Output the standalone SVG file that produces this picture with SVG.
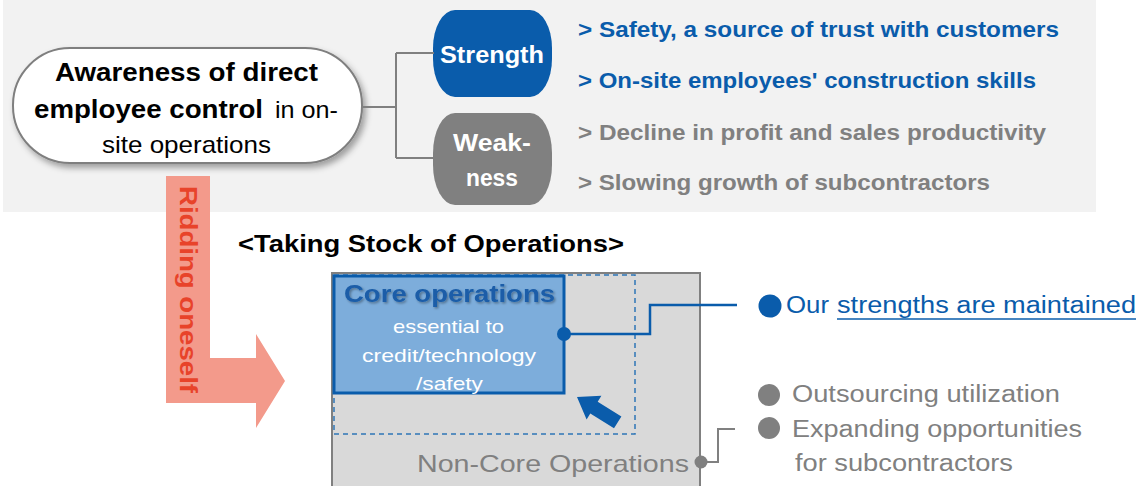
<svg xmlns="http://www.w3.org/2000/svg" width="1137" height="486" viewBox="0 0 1137 486">
<defs>
<style>
text{font-family:"Liberation Sans",Arial,sans-serif}
.b{font-weight:bold}
.blue{fill:#0a5cab}
.gray{fill:#808080}
.wt{fill:#ffffff}
.ln{fill:none;stroke:#808080;stroke-width:2}
.bl{fill:none;stroke:#0a5cab;stroke-width:2.5}
</style>
<filter id="sh" x="-10%" y="-10%" width="130%" height="140%">
<feDropShadow dx="3" dy="4" stdDeviation="3" flood-color="#000" flood-opacity="0.35"/>
</filter>
<filter id="tsh" x="-5%" y="-20%" width="110%" height="150%">
<feDropShadow dx="1.5" dy="1.5" stdDeviation="1" flood-color="#000" flood-opacity="0.35"/>
</filter>
</defs>
<rect x="3" y="0" width="1093" height="212" fill="#f2f2f2"/>
<g id="awareness">
<rect x="13" y="48" width="349" height="115" rx="57" ry="57" fill="#fff" stroke="#7f7f7f" stroke-width="2" filter="url(#sh)"/>
<text x="55" y="81" class="b" font-size="25" textLength="263" lengthAdjust="spacingAndGlyphs">Awareness of direct</text>
<text x="34" y="118" class="b" font-size="25" textLength="229" lengthAdjust="spacingAndGlyphs">employee control</text>
<text x="275" y="118" font-size="24" textLength="63" lengthAdjust="spacingAndGlyphs">in on-</text>
<text x="102" y="153" font-size="24" textLength="169" lengthAdjust="spacingAndGlyphs">site operations</text>
</g>
<g id="strength">
<rect x="433" y="10" width="119" height="87" rx="22" ry="38" fill="#0a5cab"/>
<text x="440" y="63" class="b wt" font-size="24" textLength="104" lengthAdjust="spacingAndGlyphs">Strength</text>
</g>
<g id="weakness">
<rect x="433" y="113" width="119" height="92" rx="22" ry="40" fill="#808080"/>
<text x="453" y="151" class="b wt" font-size="24" textLength="78" lengthAdjust="spacingAndGlyphs">Weak-</text>
<text x="466" y="186" class="b wt" font-size="24" textLength="52" lengthAdjust="spacingAndGlyphs">ness</text>
</g>
<g id="points">
<text x="578" y="37" class="b blue" font-size="22" textLength="481" lengthAdjust="spacingAndGlyphs">&gt; Safety, a source of trust with customers</text>
<text x="578" y="88" class="b blue" font-size="22" textLength="458" lengthAdjust="spacingAndGlyphs">&gt; On-site employees' construction skills</text>
<text x="578" y="140" class="b gray" font-size="22" textLength="468" lengthAdjust="spacingAndGlyphs">&gt; Decline in profit and sales productivity</text>
<text x="578" y="190" class="b gray" font-size="22" textLength="412" lengthAdjust="spacingAndGlyphs">&gt; Slowing growth of subcontractors</text>
</g>
<g id="ridding">
<polygon points="166,176 210,176 210,358 256,358 256,334 285,381 256,428 256,403 166,403" fill="#f39a8b"/>
<text transform="translate(180,186) rotate(90)" class="b" fill="#e8432a" font-size="23" textLength="207" lengthAdjust="spacingAndGlyphs">Ridding oneself</text>
</g>
<text id="title" x="238" y="252" class="b" font-size="24" textLength="386" lengthAdjust="spacingAndGlyphs">&lt;Taking Stock of Operations&gt;</text>
<g id="noncore">
<rect x="332" y="273" width="368" height="220" fill="#d9d9d9" stroke="#808080" stroke-width="2"/>
<text x="417" y="472" class="gray" font-size="24" textLength="272" lengthAdjust="spacingAndGlyphs">Non-Core Operations</text>
</g>
<rect x="334" y="275" width="301" height="159" fill="none" stroke="#2e75b6" stroke-width="1.5" stroke-dasharray="5,4"/>
<g id="core">
<rect x="334" y="276" width="230" height="117" fill="#7daddb" stroke="#0a5cab" stroke-width="3"/>
<text x="344" y="302" class="b" fill="#1a5da8" font-size="24" textLength="211" lengthAdjust="spacingAndGlyphs" filter="url(#tsh)">Core operations</text>
<text x="393" y="333" class="wt" font-size="19" textLength="111" lengthAdjust="spacingAndGlyphs">essential to</text>
<text x="362" y="362" class="wt" font-size="19" textLength="174" lengthAdjust="spacingAndGlyphs">credit/technology</text>
<text x="416" y="390" class="wt" font-size="19" textLength="67" lengthAdjust="spacingAndGlyphs">/safety</text>
</g>
<polygon id="shrink-arrow" points="577,397 601.4,395.7 597.7,401.7 621.4,416.5 614,428.3 590.3,413.5 586.6,419.5" fill="#0a5cab"/>
<g id="maintained">
<circle cx="770" cy="306" r="11.5" fill="#0a5cab"/>
<text x="786" y="313" class="blue" font-size="23" textLength="43" lengthAdjust="spacingAndGlyphs">Our</text>
<text x="837" y="313" class="blue" font-size="23" textLength="299" lengthAdjust="spacingAndGlyphs">strengths are maintained</text>
<line x1="837" y1="319" x2="1136" y2="319" stroke="#0a5cab" stroke-width="1.5"/>
</g>
<g id="outsourcing">
<circle cx="769" cy="395" r="11" fill="#808080"/>
<text x="792" y="402" class="gray" font-size="23" textLength="268" lengthAdjust="spacingAndGlyphs">Outsourcing utilization</text>
<circle cx="769" cy="428" r="11" fill="#808080"/>
<text x="792" y="437" class="gray" font-size="23" textLength="290" lengthAdjust="spacingAndGlyphs">Expanding opportunities</text>
<text x="795" y="471" class="gray" font-size="23" textLength="218" lengthAdjust="spacingAndGlyphs">for subcontractors</text>
</g>
<g id="connectors">
<path class="ln" d="M362,107 H396 M396,53 V158 M396,53 H434 M396,158 H434"/>
<path class="bl" d="M564,334 H650 V305 H737"/>
<circle cx="564" cy="334" r="7" fill="#0a5cab"/>
<path class="ln" d="M702,462 H718 V429 H735"/>
<circle cx="701" cy="462" r="6.5" fill="#808080"/>
</g>
</svg>
